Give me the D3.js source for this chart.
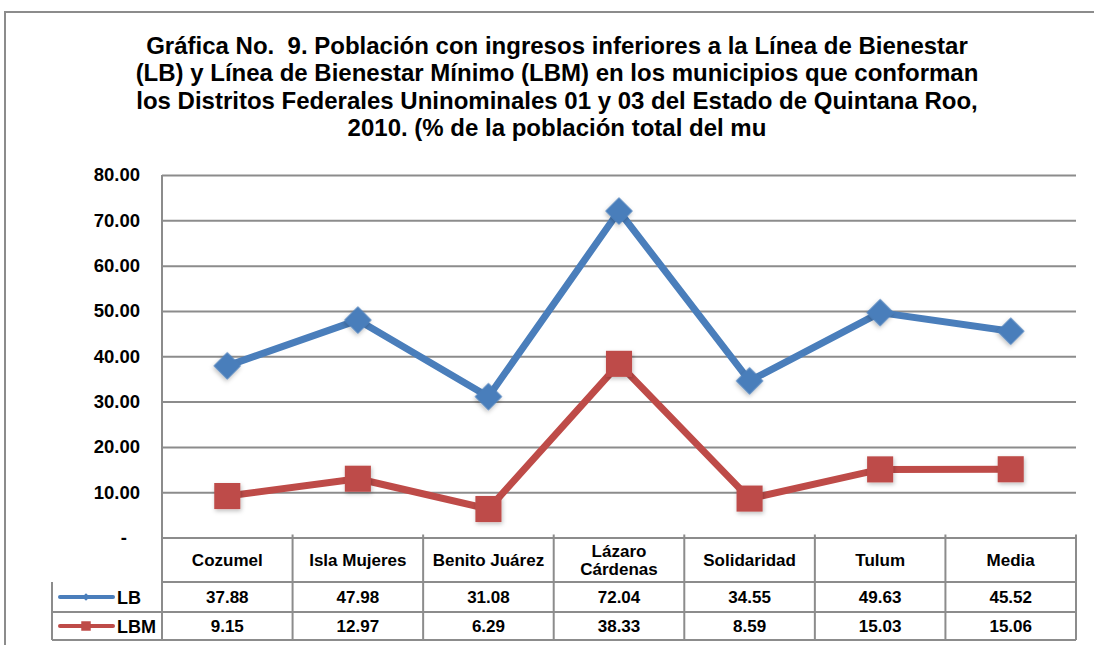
<!DOCTYPE html>
<html>
<head>
<meta charset="utf-8">
<script src="https://cdn.jsdelivr.net/npm/d3@7"></script>
<style>
  body { margin: 0; background: #fff; }
  svg text { font-family: "Liberation Sans", Arial, sans-serif; font-weight: bold; fill: #000; white-space: pre; }
</style>
</head>
<body>
<svg id="chart" width="1094" height="645"></svg>
<script>
// data
const categories = ["Cozumel", "Isla Mujeres", "Benito Juárez", "Lázaro Cárdenas", "Solidaridad", "Tulum", "Media"];
const lbValues  = [37.88, 47.98, 31.08, 72.04, 34.55, 49.63, 45.52];
const lbmValues = [9.15, 12.97, 6.29, 38.33, 8.59, 15.03, 15.06];
const yTicks = [0, 10, 20, 30, 40, 50, 60, 70, 80];
const titleLines = [
  "Gráfica No.  9. Población con ingresos inferiores a la Línea de Bienestar",
  "(LB) y Línea de Bienestar Mínimo (LBM) en los municipios que conforman",
  "los Distritos Federales Uninominales 01 y 03 del Estado de Quintana Roo,",
  "2010. (% de la población total del mu"
];

const series = [
  {name: "LB", values: lbValues, color: "#4a7ebb", shape: "diamond"},
  {name: "LBM", values: lbmValues, color: "#be4b48", shape: "square"}
];

/***** SETUP *****/
const svg = d3.select("#chart");
const GRID = "#8c8c8c";
const plot = {left: 162, right: 1076, top: 175, bottom: 537.5};
const rows = {header: 582, lb: 612, lbm: 640};
const legendLeft = 52;

// outer frame
svg.append("path")
  .attr("d", `M5,645 V12 H1094`)
  .attr("fill", "none")
  .attr("stroke", GRID)
  .attr("stroke-width", 2);

// title
svg.append("g").selectAll("text")
  .data(titleLines)
  .join("text")
  .attr("x", 557)
  .attr("y", (d, i) => 54 + i * 27.3)
  .attr("text-anchor", "middle")
  .attr("font-size", 24)
  .text(d => d);

/***** SCALES *****/
const x = d3.scaleBand()
  .domain(categories)
  .range([plot.left, plot.right]);

const y = d3.scaleLinear()
  .domain([0, 80])
  .range([plot.bottom, plot.top]);

/***** GRID + Y AXIS *****/
svg.append("g")
  .attr("transform", `translate(${plot.left},0)`)
  .call(d3.axisLeft(y)
    .tickValues(yTicks)
    .tickSize(-(plot.right - plot.left))
    .tickPadding(22)
    .tickFormat(d => d === 0 ? "-" : d3.format(".2f")(d)))
  .call(g => g.select(".domain").remove())
  .call(g => g.selectAll(".tick line").attr("stroke", GRID).attr("stroke-width", 2))
  .call(g => g.selectAll(".tick text")
    .attr("font-size", 18.5)
    .attr("font-family", "Liberation Sans, Arial, sans-serif")
    .attr("dx", d => d === 0 ? -13 : 0));

// left axis line (plot + table header)
svg.append("line")
  .attr("x1", plot.left).attr("x2", plot.left)
  .attr("y1", plot.top).attr("y2", rows.lbm)
  .attr("stroke", GRID).attr("stroke-width", 2);

/***** DATA TABLE *****/
const table = svg.append("g").attr("id", "table");

// column boundaries
const bounds = categories.map(c => x(c)).concat([plot.right]);
table.selectAll(".colLine")
  .data(bounds.slice(1))
  .join("line")
  .attr("x1", d => d).attr("x2", d => d)
  .attr("y1", plot.bottom - 3).attr("y2", rows.lbm)
  .attr("stroke", GRID).attr("stroke-width", 2);

// row lines
[[plot.left, rows.header], [legendLeft, rows.lb], [legendLeft, rows.lbm]].forEach(([x0, yy]) => {
  table.append("line")
    .attr("x1", x0).attr("x2", plot.right)
    .attr("y1", yy).attr("y2", yy)
    .attr("stroke", GRID).attr("stroke-width", 2);
});
table.append("line")
  .attr("x1", legendLeft).attr("x2", legendLeft)
  .attr("y1", rows.header).attr("y2", rows.lbm)
  .attr("stroke", GRID).attr("stroke-width", 2);

// header labels
categories.forEach(c => {
  const parts = c === "Lázaro Cárdenas" ? ["Lázaro", "Cárdenas"] : [c];
  const cy = (plot.bottom + rows.header) / 2;
  parts.forEach((p, i) => {
    table.append("text")
      .attr("x", x(c) + x.bandwidth() / 2)
      .attr("y", cy + 6 + (i - (parts.length - 1) / 2) * 18)
      .attr("text-anchor", "middle")
      .attr("font-size", 17)
      .text(p);
  });
});

// value rows
const rowTop = [rows.header, rows.lb];
series.forEach((s, si) => {
  const cy = (rowTop[si] + [rows.lb, rows.lbm][si]) / 2;
  table.selectAll(".val" + si)
    .data(s.values)
    .join("text")
    .attr("x", (d, i) => x(categories[i]) + x.bandwidth() / 2)
    .attr("y", cy + 6)
    .attr("text-anchor", "middle")
    .attr("font-size", 17)
    .text(d => d.toFixed(2));

  // legend key
  table.append("line")
    .attr("x1", 60).attr("x2", 113)
    .attr("y1", cy).attr("y2", cy)
    .attr("stroke", s.color).attr("stroke-width", 4)
    .attr("stroke-linecap", "round");
  const key = s.shape === "diamond"
    ? d3.symbol(d3.symbolSquare, 30)
    : d3.symbol(d3.symbolSquare, 90);
  table.append("path")
    .attr("d", key)
    .attr("transform", `translate(86,${cy})` + (s.shape === "diamond" ? " rotate(45)" : ""))
    .attr("fill", s.color);
  table.append("text")
    .attr("x", 117)
    .attr("y", cy + 6.5)
    .attr("font-size", 18)
    .text(s.name);
});

/***** LINES + MARKERS *****/
const defs = svg.append("defs");
defs.append("filter").attr("id", "shadow")
  .attr("x", "-50%").attr("y", "-50%").attr("width", "200%").attr("height", "200%")
  .append("feDropShadow")
  .attr("dx", 1).attr("dy", 2).attr("stdDeviation", 2)
  .attr("flood-color", "#000").attr("flood-opacity", 0.25);

const lines = svg.append("g").attr("id", "lines");
const line = d3.line()
  .x((d, i) => x(categories[i]) + x.bandwidth() / 2)
  .y(d => y(d));

series.forEach(s => {
  lines.append("path")
    .datum(s.values)
    .attr("d", line)
    .attr("fill", "none")
    .attr("stroke", s.color)
    .attr("stroke-width", 7)
    .attr("stroke-linejoin", "round");

  const sym = s.shape === "diamond"
    ? d3.symbol(d3.symbolSquare, 380)
    : d3.symbol(d3.symbolSquare, 680);
  lines.selectAll(".m" + s.name)
    .data(s.values)
    .join("path")
    .attr("d", sym)
    .attr("transform", (d, i) => `translate(${x(categories[i]) + x.bandwidth() / 2},${y(d)})` +
      (s.shape === "diamond" ? " rotate(45)" : ""))
    .attr("fill", s.color)
    .attr("filter", "url(#shadow)");
});
</script>
</body>
</html>
